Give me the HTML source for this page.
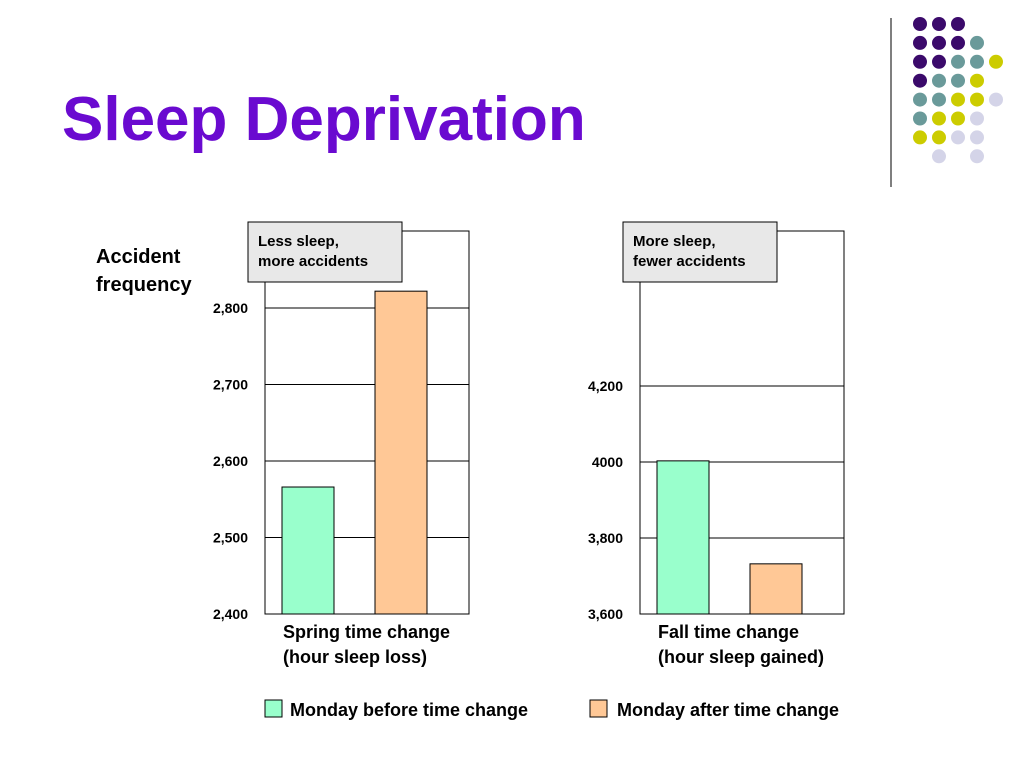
<!DOCTYPE html>
<html><head><meta charset="utf-8"><style>
body{margin:0;background:#fff;width:1024px;height:768px;overflow:hidden;font-family:"Liberation Sans",Arial,sans-serif}
</style></head><body>
<svg width="1024" height="768" font-family="Liberation Sans, Arial, sans-serif">
<text x="62" y="140" font-size="62" font-weight="bold" fill="#6a0ad0">Sleep Deprivation</text>
<line x1="891" y1="18" x2="891" y2="187" stroke="#555" stroke-width="1.5"/>
<g id="dots"></g>
<text x="96" y="263" font-size="20" font-weight="bold">Accident</text>
<text x="96" y="291" font-size="20" font-weight="bold">frequency</text>
<g id="charts"></g>
<rect x="265" y="700" width="17" height="17" fill="#99ffcc" stroke="#000"/>
<text x="290" y="716" font-size="18" font-weight="bold">Monday before time change</text>
<rect x="590" y="700" width="17" height="17" fill="#ffc896" stroke="#000"/>
<text x="617" y="716" font-size="18" font-weight="bold">Monday after time change</text>
</svg>
<script>
const springTicks=[2400,2500,2600,2700,2800];
const springValues=[2566,2822];
const fallTicks=[3600,3800,4000,4200];
const fallTickLabels=["3,600","3,800","4000","4,200"];
const springTickLabels=["2,400","2,500","2,600","2,700","2,800"];
const fallValues=[4003,3732];
const seriesNames=["Monday before time change","Monday after time change"];
const NS="http://www.w3.org/2000/svg";
function mk(tag,attrs,parent){const e=document.createElementNS(NS,tag);for(const k in attrs)e.setAttribute(k,attrs[k]);parent.appendChild(e);return e;}
const dotColors={P:"#3b0a6b",T:"#6a9a9a",Y:"#cccc00",L:"#d4d4e8"};
const dotRows=["PPP..","PPPT.","PPTTY","PTTY.","TTYYL","TYYL.","YYLL.",".L.L."];
const dg=document.getElementById('dots');
dotRows.forEach((r,ri)=>{[...r].forEach((c,ci)=>{if(c==='.')return;const d=mk('circle',{cx:920+ci*19,cy:24+ri*18.9,r:7,fill:dotColors[c]},dg);

});});
const cg=document.getElementById('charts');
function chart(x0,ticks,labels,values,tmin,tmax,topVal,callout,cat,name){
  const g=mk('g',{},cg);
  
  
  const yB=614,yT=308;
  const y=v=>yB-(v-tmin)/(tmax-tmin)*(yB-yT);
  const f=mk('rect',{x:x0,y:231,width:204,height:383,fill:'none',stroke:'#000','stroke-width':1},g);
  
  
  ticks.forEach((t,i)=>{const yy=y(t);
    const l=mk('line',{x1:x0,x2:x0+204,y1:yy,y2:yy,stroke:'#000'},g);
    
    
    const tx=mk('text',{x:x0-17,y:yy+5,'font-size':14,'font-weight':'bold','text-anchor':'end'},g);
    tx.textContent=labels[i];
    
    });
  const fills=['#99ffcc','#ffc896'];
  values.forEach((v,i)=>{const yy=y(v);
    const b=mk('rect',{x:x0+17+i*93,y:yy,width:52,height:yB-yy,fill:fills[i],stroke:'#000'},g);
    
    });
  const cb=mk('rect',{x:x0-17,y:222,width:154,height:60,fill:'#e8e8e8',stroke:'#000'},g);
  
  
  callout.forEach((s,i)=>{const t=mk('text',{x:x0-7,y:246+i*20,'font-size':15,'font-weight':'bold'},g);t.textContent=s;
    
    });
  cat.forEach((s,i)=>{const t=mk('text',{x:x0+18,y:638+i*25,'font-size':18,'font-weight':'bold'},g);t.textContent=s;
    
    });
}
chart(265,springTicks,springTickLabels,springValues,2400,2800,0,["Less sleep,","more accidents"],["Spring time change","(hour sleep loss)"],'spring-chart');
(function(){
 // fall chart: 3600 at bottom, 4200 at y=386
 const g=cg; const x0=640;
 const ticks=fallTicks;
})();
function chartFall(){
  const x0=640,yB=614,yT=386,tmin=3600,tmax=4200;
  const g=mk('g',{},cg);
  
  
  const y=v=>yB-(v-tmin)/(tmax-tmin)*(yB-yT);
  const f=mk('rect',{x:x0,y:231,width:204,height:383,fill:'none',stroke:'#000'},g);
  
  
  fallTicks.forEach((t,i)=>{const yy=y(t);
    const l=mk('line',{x1:x0,x2:x0+204,y1:yy,y2:yy,stroke:'#000'},g);
    
    
    const tx=mk('text',{x:x0-17,y:yy+5,'font-size':14,'font-weight':'bold','text-anchor':'end'},g);
    tx.textContent=fallTickLabels[i];
    
    });
  const fills=['#99ffcc','#ffc896'];
  fallValues.forEach((v,i)=>{const yy=y(v);
    const b=mk('rect',{x:x0+17+i*93,y:yy,width:52,height:yB-yy,fill:fills[i],stroke:'#000'},g);
    
    });
  const cb=mk('rect',{x:x0-17,y:222,width:154,height:60,fill:'#e8e8e8',stroke:'#000'},g);
  
  
  ["More sleep,","fewer accidents"].forEach((s,i)=>{const t=mk('text',{x:x0-7,y:246+i*20,'font-size':15,'font-weight':'bold'},g);t.textContent=s;
    
    });
  ["Fall time change","(hour sleep gained)"].forEach((s,i)=>{const t=mk('text',{x:x0+18,y:638+i*25,'font-size':18,'font-weight':'bold'},g);t.textContent=s;
    
    });
}
chartFall();
</script>
</body></html>
